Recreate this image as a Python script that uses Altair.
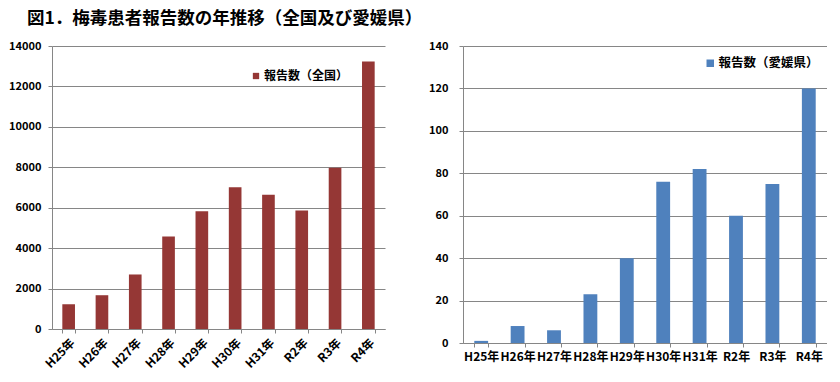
import altair as alt
import pandas as pd

years = ["H25年", "H26年", "H27年", "H28年", "H29年", "H30年", "H31年", "R2年", "R3年", "R4年"]
national = [1228, 1671, 2697, 4575, 5826, 7007, 6642, 5867, 7978, 13228]
ehime = [1, 8, 6, 23, 40, 76, 82, 60, 75, 120]
label_nat = "報告数（全国）"
label_ehime = "報告数（愛媛県）"
title_text = "図1．梅毒患者報告数の年推移（全国及び愛媛県）"

df_n = pd.DataFrame({"year": years, "value": national, "series": label_nat})
df_e = pd.DataFrame({"year": years, "value": ehime, "series": label_ehime})
df_t = pd.DataFrame({"title": [title_text]})

FONT = "Noto Sans CJK JP"
GRID = "#868686"


def y_axis(step, top, pad):
    return alt.Axis(values=list(range(0, top + 1, step)), format="d", labelFont=FONT, labelFontSize=11,
                    labelFontWeight="bold", labelColor="black", labelPadding=pad,
                    tickSize=4, tickColor=GRID, domainColor=GRID, gridColor=GRID,
                    gridOpacity=1, gridWidth=1, title=None)


left_bars = alt.Chart(df_n).mark_bar().encode(
    x=alt.X("year:N", sort=years, title=None,
            scale=alt.Scale(paddingInner=0.62, paddingOuter=0.31),
            axis=alt.Axis(labelAngle=-45, labelFontSize=12, labelFontWeight="bold", labelFont=FONT,
                          labelColor="black", tickBand="extent", domainColor=GRID, tickColor=GRID,
                          tickSize=4, labelPadding=4, grid=False, labelOverlap=False)),
    y=alt.Y("value:Q", scale=alt.Scale(domain=[0, 14000]), axis=y_axis(2000, 14000, 7)),
    color=alt.Color("series:N", scale=alt.Scale(domain=[label_nat], range=["#953735"]),
                    legend=alt.Legend(title=None, orient="none", legendX=198, legendY=24,
                                      symbolType="square", symbolSize=40, symbolStrokeWidth=0,
                                      labelFont=FONT, labelFontSize=12, labelFontWeight="bold",
                                      labelColor="black", padding=0, labelOffset=2)),
)

title_text_mark = alt.Chart(df_t).mark_text(
    align="left", baseline="top", font=FONT, fontSize=17.5, fontWeight="bold", color="black"
).encode(text="title:N", x=alt.value(-25), y=alt.value(-36))

left = alt.layer(left_bars, title_text_mark).properties(width=333, height=283)

right = alt.Chart(df_e).mark_bar().encode(
    x=alt.X("year:N", sort=years, title=None,
            scale=alt.Scale(paddingInner=0.62, paddingOuter=0.31),
            axis=alt.Axis(labelAngle=0, labelFontSize=12, labelFontWeight="bold", labelFont=FONT,
                          labelColor="black", tickBand="extent", domainColor=GRID, tickColor=GRID,
                          tickSize=4, labelPadding=4, grid=False, labelOverlap=False)),
    y=alt.Y("value:Q", scale=alt.Scale(domain=[0, 140]), axis=y_axis(20, 140, 11)),
    color=alt.Color("series:N", scale=alt.Scale(domain=[label_ehime], range=["#4F81BD"]),
                    legend=alt.Legend(title=None, orient="none", legendX=241, legendY=11,
                                      symbolType="square", symbolSize=56, symbolStrokeWidth=0,
                                      labelFont=FONT, labelFontSize=12.5, labelFontWeight="bold",
                                      labelColor="black", padding=0, labelOffset=2)),
).properties(width=364, height=297)

chart = alt.hconcat(left, right, spacing=78, bounds="flush").resolve_scale(color="independent").resolve_legend(
    color="independent"
).properties(
    padding={"left": 0, "top": 2, "right": 0, "bottom": 0},
    background="white",
).configure_view(stroke=None)

chart.save("out.html", embed_options={"renderer": "svg", "actions": False})
